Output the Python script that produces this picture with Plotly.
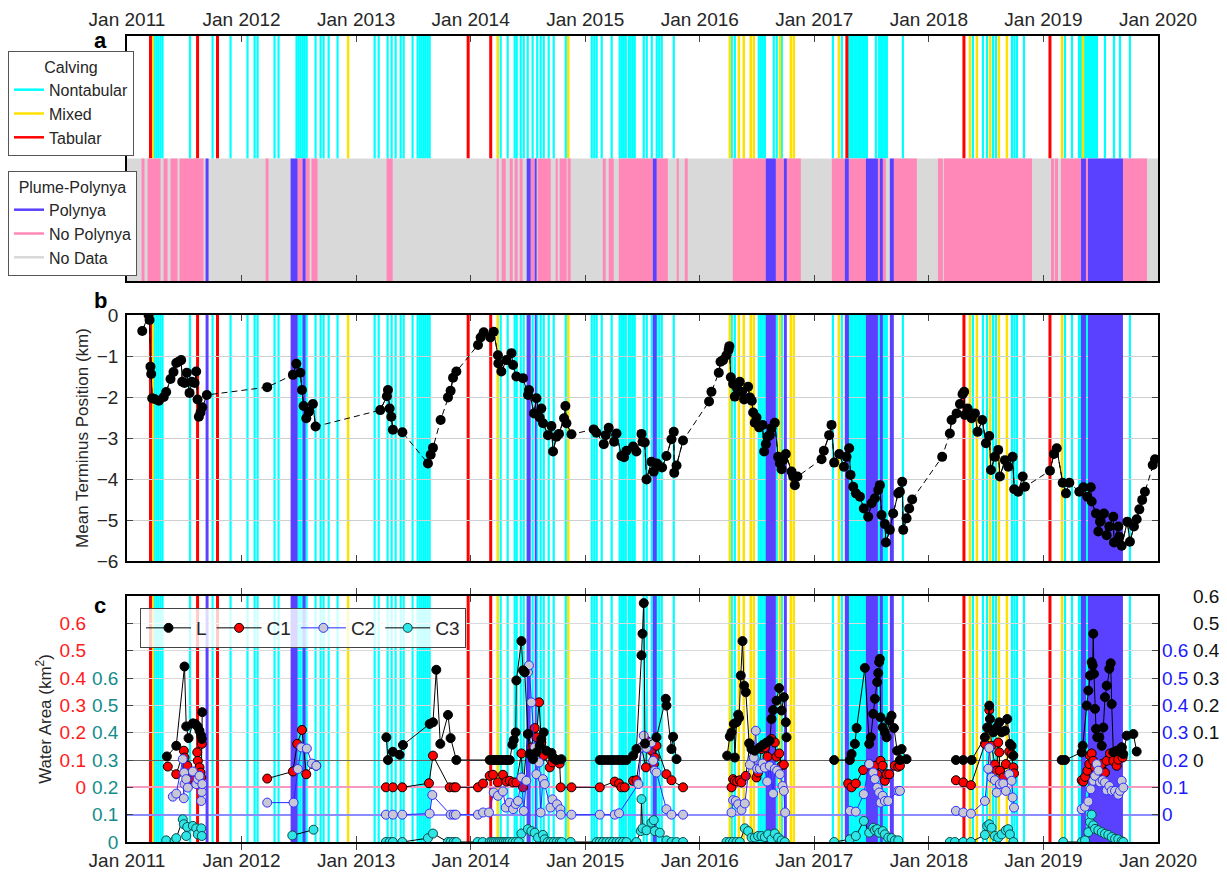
import plotly.graph_objects as go

FONT = "Liberation Sans, Arial, Helvetica, sans-serif"

# ---------------- data ----------------
tick_years = [2011, 2012, 2013, 2014, 2015, 2016, 2017, 2018, 2019, 2020]
tick_labels = ["Jan 2011", "Jan 2012", "Jan 2013", "Jan 2014", "Jan 2015",
               "Jan 2016", "Jan 2017", "Jan 2018", "Jan 2019", "Jan 2020"]

# calving events (decimal year)
nontabular = [2011.240, 2011.258, 2011.275, 2011.293, 2011.310, 2011.550, 2011.747, 2011.904,
              2012.052, 2012.114, 2012.140, 2012.288, 2012.323, 2012.480, 2012.498, 2012.515,
              2012.533, 2012.550, 2012.568, 2012.646, 2012.690, 2012.716, 2012.760, 2012.838,
              2013.162, 2013.197, 2013.275, 2013.310, 2013.345, 2013.389, 2013.415, 2013.493,
              2013.537, 2013.555, 2013.572, 2013.590, 2013.607, 2013.625, 2013.642,
              2014.262, 2014.323, 2014.384, 2014.402, 2014.437, 2014.463, 2014.498, 2014.541,
              2014.581, 2014.611, 2014.638, 2014.681, 2014.725, 2014.830,
              2015.057, 2015.079, 2015.100, 2015.144, 2015.231, 2015.301, 2015.319, 2015.336,
              2015.354, 2015.380, 2015.397, 2015.415, 2015.432, 2015.511, 2015.537, 2015.581,
              2015.624, 2015.646, 2015.668, 2015.773,
              2016.279, 2016.306, 2016.515, 2016.533, 2016.550, 2016.568, 2016.646, 2016.672, 2016.716,
              2017.162, 2017.240, 2017.301, 2017.319, 2017.336, 2017.354, 2017.371, 2017.389,
              2017.406, 2017.424, 2017.441, 2017.459, 2017.537, 2017.563, 2017.581, 2017.598,
              2017.616, 2017.633, 2017.773,
              2018.384, 2018.472, 2018.507, 2018.559, 2018.585, 2018.725, 2018.747, 2018.769, 2018.830,
              2019.188, 2019.249, 2019.310, 2019.328, 2019.362, 2019.380, 2019.397, 2019.415,
              2019.432, 2019.450, 2019.467, 2019.537, 2019.616, 2019.668, 2019.755]
mixed = [2011.223, 2012.930, 2014.236, 2014.852, 2016.262, 2016.341, 2016.384, 2016.445,
         2016.472, 2016.699, 2016.795, 2016.821, 2017.214, 2018.358, 2018.419, 2018.533,
         2018.611, 2018.681, 2019.162, 2019.345]
tabular = [2011.205, 2011.616, 2011.790, 2013.978, 2014.175, 2017.284, 2018.306, 2019.057]

# plume-polynya observations (start, end in decimal year)
nopoly_start = [2011.127, 2011.179, 2011.319, 2011.380, 2011.459, 2012.210, 2012.489, 2012.559,
                2012.611, 2013.266, 2014.227, 2014.271, 2014.341, 2014.384, 2014.428, 2014.524,
                2014.585, 2014.742, 2014.777, 2014.847, 2015.153, 2015.205, 2015.293, 2015.624,
                2015.799, 2015.869, 2016.288, 2016.664, 2016.760, 2017.153, 2017.301, 2017.555,
                2017.598, 2017.694, 2018.079, 2018.131, 2019.066, 2019.100, 2019.153, 2019.371,
                2019.694]
nopoly_end = [2011.153, 2011.293, 2011.354, 2011.441, 2011.668, 2012.236, 2012.533, 2012.594,
              2012.664, 2013.319, 2014.245, 2014.306, 2014.367, 2014.410, 2014.454, 2014.559,
              2014.699, 2014.760, 2014.838, 2014.873, 2015.179, 2015.249, 2015.590, 2015.721,
              2015.817, 2015.895, 2016.576, 2016.734, 2016.882, 2017.266, 2017.450, 2017.572,
              2017.624, 2017.895, 2018.122, 2018.900, 2019.092, 2019.127, 2019.328, 2019.389,
              2019.904]
poly_start = [2011.686, 2012.428, 2012.533, 2014.489, 2014.559, 2015.590, 2016.576, 2016.734,
              2017.266, 2017.450, 2017.572, 2017.659, 2019.328, 2019.389]
poly_end = [2011.712, 2012.489, 2012.559, 2014.524, 2014.576, 2015.624, 2016.664, 2016.760,
            2017.301, 2017.555, 2017.598, 2017.694, 2019.371, 2019.694]

# mean terminus position (km)
term_year = [2011.133, 2011.188, 2011.197, 2011.205, 2011.211, 2011.220, 2011.240, 2011.278, 2011.321,
             2011.342, 2011.380, 2011.406, 2011.430, 2011.450, 2011.473, 2011.482, 2011.502, 2011.522,
             2011.546, 2011.566, 2011.590, 2011.604, 2011.616, 2011.627, 2011.642, 2011.657, 2011.697,
             2012.224, 2012.448, 2012.478, 2012.513, 2012.527, 2012.542, 2012.565, 2012.588, 2012.623,
             2012.646, 2013.211, 2013.269, 2013.278, 2013.293, 2013.307, 2013.321, 2013.404, 2013.627,
             2013.651, 2013.671, 2013.738, 2013.802, 2013.825, 2013.846, 2013.875, 2014.064, 2014.087,
             2014.114, 2014.172, 2014.201, 2014.238, 2014.242, 2014.268, 2014.312, 2014.356, 2014.370,
             2014.399, 2014.457, 2014.501, 2014.509, 2014.553, 2014.574, 2014.603, 2014.617, 2014.632,
             2014.675, 2014.705, 2014.719, 2014.749, 2014.771, 2014.815, 2014.827, 2014.836, 2014.880,
             2015.074, 2015.098, 2015.162, 2015.179, 2015.205, 2015.252, 2015.273, 2015.316, 2015.339,
             2015.360, 2015.418, 2015.447, 2015.491, 2015.500, 2015.520, 2015.535, 2015.578, 2015.598,
             2015.627, 2015.671, 2015.709, 2015.753, 2015.773, 2015.777, 2015.797, 2015.854, 2016.081,
             2016.102, 2016.166, 2016.181, 2016.204, 2016.233, 2016.252, 2016.258, 2016.271, 2016.291,
             2016.306, 2016.326, 2016.349, 2016.364, 2016.387, 2016.422, 2016.437, 2016.454, 2016.466,
             2016.480, 2016.495, 2016.518, 2016.548, 2016.562, 2016.577, 2016.591, 2016.611, 2016.626,
             2016.655, 2016.684, 2016.699, 2016.714, 2016.728, 2016.751, 2016.801, 2016.815, 2016.830,
             2016.853, 2017.063, 2017.083, 2017.129, 2017.150, 2017.173, 2017.217, 2017.258, 2017.281,
             2017.304, 2017.316, 2017.339, 2017.363, 2017.398, 2017.432, 2017.470, 2017.500, 2017.529,
             2017.558, 2017.572, 2017.587, 2017.616, 2017.625, 2017.659, 2017.688, 2017.732, 2017.747,
             2017.767, 2017.776, 2017.805, 2017.828, 2017.854, 2018.116, 2018.183, 2018.198, 2018.242,
             2018.271, 2018.294, 2018.308, 2018.314, 2018.338, 2018.373, 2018.402, 2018.425, 2018.466,
             2018.498, 2018.527, 2018.542, 2018.576, 2018.605, 2018.620, 2018.664, 2018.693, 2018.731,
             2018.745, 2018.780, 2018.819, 2018.839, 2019.057, 2019.092, 2019.116, 2019.168, 2019.197,
             2019.226, 2019.313, 2019.348, 2019.383, 2019.413, 2019.421, 2019.459, 2019.479, 2019.494,
             2019.528, 2019.552, 2019.575, 2019.610, 2019.616, 2019.654, 2019.662, 2019.683, 2019.732,
             2019.755, 2019.790, 2019.814, 2019.837, 2019.862, 2019.886, 2019.954, 2019.974]
term_km = [-0.39, 0.00, -0.12, -1.26, -1.44, -2.03, -2.05, -2.09, -2.00,
           -1.88, -1.56, -1.39, -1.17, -1.14, -1.10, -1.63, -1.66, -1.41,
           -1.90, -1.63, -1.66, -1.38, -2.06, -2.48, -2.38, -2.25, -1.95,
           -1.76, -1.46, -1.19, -1.41, -1.83, -2.22, -2.52, -2.36, -2.17,
           -2.72, -2.32, -1.98, -1.83, -2.28, -2.48, -2.80, -2.86, -3.62,
           -3.41, -3.24, -2.56, -2.01, -1.85, -1.53, -1.38, -0.73, -0.55,
           -0.42, -0.55, -0.41, -0.98, -1.18, -1.38, -1.10, -0.93, -1.22,
           -1.50, -1.54, -1.95, -1.83, -2.40, -2.03, -2.50, -2.28, -2.64,
           -2.93, -2.71, -3.33, -2.97, -2.90, -2.52, -2.22, -2.64, -2.91,
           -2.79, -2.87, -3.15, -2.93, -2.75, -3.09, -2.89, -3.44, -3.47,
           -3.31, -3.21, -3.33, -2.90, -3.09, -3.11, -4.01, -3.58, -3.82,
           -3.62, -3.72, -3.44, -3.03, -2.85, -3.85, -3.67, -3.06, -2.11,
           -1.87, -1.41, -1.14, -1.10, -0.98, -0.85, -0.76, -1.52, -1.68,
           -1.99, -1.79, -1.63, -1.87, -2.06, -1.75, -2.01, -2.09, -2.38,
           -2.63, -2.50, -2.74, -2.68, -3.33, -3.15, -2.97, -2.93, -2.76,
           -2.63, -3.46, -3.62, -3.76, -3.54, -3.39, -3.82, -3.94, -4.15,
           -3.94, -3.52, -3.31, -2.93, -2.68, -3.60, -3.39, -3.70, -3.46,
           -3.25, -3.90, -4.19, -4.35, -4.43, -4.72, -4.92, -4.59, -4.47,
           -4.27, -4.15, -4.88, -5.10, -5.55, -5.24, -4.84, -4.35, -4.31,
           -4.07, -5.24, -4.96, -4.72, -4.50, -3.46, -2.89, -2.56, -2.40,
           -2.17, -1.93, -1.87, -2.44, -2.28, -2.52, -2.40, -2.85, -2.56,
           -3.13, -2.95, -3.78, -3.46, -3.29, -3.94, -3.54, -3.70, -3.46,
           -4.25, -4.31, -3.94, -4.19, -3.80, -3.39, -3.25, -4.09, -4.35,
           -4.09, -4.31, -4.20, -4.43, -4.20, -4.55, -4.84, -5.28, -5.04,
           -4.84, -5.37, -5.16, -4.92, -5.55, -5.16, -5.41, -5.63, -5.04,
           -5.53, -5.16, -4.98, -4.74, -4.51, -4.31, -3.66, -3.52]

# water areas (km^2)
L_year = [2011.348, 2011.430, 2011.502, 2011.517, 2011.537, 2011.575, 2011.596, 2011.618, 2011.633,
          2011.648, 2011.653, 2011.657,
          2013.264, 2013.278, 2013.321, 2013.380, 2013.409, 2013.642, 2013.671, 2013.700, 2013.735,
          2013.802, 2013.825, 2013.875,
          2014.166, 2014.190, 2014.210, 2014.230, 2014.253, 2014.273, 2014.297, 2014.317, 2014.341,
          2014.364, 2014.376, 2014.393, 2014.399, 2014.443, 2014.457, 2014.472, 2014.500, 2014.515,
          2014.544, 2014.574, 2014.603, 2014.617, 2014.638, 2014.661, 2014.705, 2014.719, 2014.749,
          2014.792,
          2015.127, 2015.156, 2015.185, 2015.214, 2015.243, 2015.273, 2015.301, 2015.330, 2015.360,
          2015.418, 2015.447, 2015.491, 2015.500, 2015.511, 2015.522, 2015.622, 2015.703, 2015.709,
          2015.753, 2015.767, 2015.797,
          2016.239, 2016.262, 2016.277, 2016.297, 2016.306, 2016.321, 2016.335, 2016.343, 2016.358,
          2016.373, 2016.387, 2016.402, 2016.431, 2016.452, 2016.480, 2016.524, 2016.553, 2016.583,
          2016.611, 2016.626, 2016.640, 2016.670, 2016.693, 2016.714, 2016.734, 2016.751, 2016.757,
          2017.173, 2017.310, 2017.325, 2017.354, 2017.369, 2017.441, 2017.479, 2017.494, 2017.514,
          2017.529, 2017.549, 2017.558, 2017.566, 2017.572, 2017.578, 2017.596, 2017.616, 2017.631,
          2017.654, 2017.674, 2017.695, 2017.723, 2017.747, 2017.762, 2017.805,
          2018.236, 2018.300, 2018.373, 2018.489, 2018.509, 2018.527, 2018.533, 2018.562, 2018.592,
          2018.614, 2018.635, 2018.664, 2018.684, 2018.707, 2018.722, 2018.737,
          2019.159, 2019.188, 2019.334, 2019.343, 2019.378, 2019.392, 2019.406, 2019.421, 2019.430,
          2019.435, 2019.441, 2019.450, 2019.459, 2019.470, 2019.488, 2019.509, 2019.523, 2019.537,
          2019.552, 2019.575, 2019.587, 2019.596, 2019.610, 2019.639, 2019.683, 2019.697, 2019.727,
          2019.785, 2019.814]
L_area = [0.013, 0.052, 0.342, 0.123, 0.080, 0.134, 0.132, 0.122, 0.107,
          0.089, 0.077, 0.175,
          0.083, 0.000, 0.030, 0.019, 0.055, 0.132, 0.138, 0.330, 0.059,
          0.165, 0.080, 0.000,
          0.000, 0.000, 0.000, 0.000, 0.000, 0.000, 0.000, 0.000, 0.000,
          0.056, 0.073, 0.101, 0.291, 0.435, 0.328, 0.321, 0.095, 0.022,
          0.003, 0.028, 0.052, 0.077, 0.101, 0.034, 0.026, 0.009, 0.000,
          0.003,
          0.000, 0.000, 0.000, 0.000, 0.000, 0.000, 0.000, 0.000, 0.000,
          0.016, 0.040, 0.383, 0.462, 0.574, 0.060, 0.083, 0.224, 0.199,
          0.040, 0.085, 0.003,
          0.016, 0.086, 0.101, 0.132, 0.009, 0.138, 0.166, 0.154, 0.309,
          0.435, 0.272, 0.248, 0.061, 0.040, 0.034, 0.046, 0.056, 0.064,
          0.071, 0.150, 0.183, 0.217, 0.263, 0.181, 0.230, 0.138, 0.083,
          0.000, 0.000, 0.022, 0.059, 0.117, 0.337, 0.059, 0.083, 0.169,
          0.224, 0.285, 0.318, 0.358, 0.370, 0.156, 0.119, 0.101, 0.083,
          0.144, 0.162, 0.117, 0.034, 0.000, 0.040, 0.003,
          0.000, 0.000, 0.000, 0.083, 0.119, 0.199, 0.150, 0.101, 0.119,
          0.138, 0.101, 0.107, 0.150, 0.059, 0.052, 0.016,
          0.000, 0.000, 0.028, 0.052, 0.199, 0.254, 0.309, 0.358, 0.346,
          0.462, 0.315, 0.187, 0.114, 0.083, 0.083, 0.052, 0.119, 0.230,
          0.272, 0.334, 0.354, 0.205, 0.028, 0.034, 0.046, 0.022, 0.089,
          0.095, 0.031]

C1_year = [2011.356, 2011.430, 2011.496, 2011.502, 2011.517, 2011.526, 2011.546, 2011.590, 2011.613,
           2011.618, 2011.633, 2011.642, 2011.648, 2011.653,
           2012.224, 2012.448, 2012.486, 2012.527, 2012.565, 2012.623, 2012.652,
           2013.260, 2013.321, 2013.403, 2013.636, 2013.671, 2013.817, 2013.852, 2013.870,
           2014.064, 2014.108, 2014.166, 2014.195, 2014.238, 2014.282, 2014.312, 2014.341, 2014.370,
           2014.399, 2014.443, 2014.457, 2014.500, 2014.530, 2014.559, 2014.574, 2014.597, 2014.617,
           2014.638, 2014.690, 2014.714, 2014.734, 2014.777, 2014.786, 2014.880,
           2015.127, 2015.258, 2015.295, 2015.316, 2015.345, 2015.418, 2015.447, 2015.491, 2015.530,
           2015.535, 2015.578, 2015.600, 2015.607, 2015.622, 2015.709, 2015.753, 2015.854,
           2016.277, 2016.291, 2016.306, 2016.326, 2016.349, 2016.364, 2016.402, 2016.437, 2016.466,
           2016.495, 2016.509, 2016.539, 2016.568, 2016.591, 2016.626, 2016.655, 2016.670, 2016.693,
           2016.714, 2016.734,
           2017.295, 2017.325, 2017.362, 2017.426, 2017.479, 2017.514, 2017.529, 2017.549, 2017.578,
           2017.596, 2017.616, 2017.631, 2017.654, 2017.703, 2017.732, 2017.747,
           2018.236, 2018.300, 2018.367, 2018.489, 2018.518, 2018.527, 2018.547, 2018.576, 2018.592,
           2018.605, 2018.614, 2018.620, 2018.649, 2018.672, 2018.701, 2018.722, 2018.737, 2018.743,
           2019.334, 2019.348, 2019.363, 2019.383, 2019.400, 2019.406, 2019.421, 2019.435, 2019.450,
           2019.465, 2019.488, 2019.509, 2019.537, 2019.552, 2019.581, 2019.610, 2019.639, 2019.653,
           2019.668, 2019.683, 2019.691]
C1_area = [0.076, 0.048, 0.134, 0.109, 0.061, 0.079, 0.030, 0.030, 0.128,
           0.097, 0.073, 0.054, 0.036, 0.159,
           0.032, 0.058, 0.159, 0.210, 0.048, 0.085, 0.079,
           0.000, 0.000, 0.000, 0.015, 0.116, 0.000, 0.000, 0.000,
           0.000, 0.014, 0.042, 0.046, 0.018, 0.046, 0.021, 0.024, 0.018,
           0.018, 0.124, 0.000, 0.195, 0.146, 0.217, 0.183, 0.311, 0.164,
           0.116, 0.073, 0.091, 0.103, 0.087, 0.000, 0.000,
           0.000, 0.021, 0.014, 0.000, 0.000, 0.024, 0.026, 0.146, 0.073,
           0.171, 0.134, 0.085, 0.109, 0.152, 0.048, 0.026, 0.000,
           0.000, 0.030, 0.024, 0.021, 0.026, 0.018, 0.042, 0.159, 0.144,
           0.036, 0.054, 0.140, 0.146, 0.112, 0.177, 0.164, 0.112, 0.124,
           0.079, 0.083,
           0.014, 0.000, 0.014, 0.063, 0.085, 0.061, 0.079, 0.048, 0.097,
           0.079, 0.024, 0.048, 0.048, 0.079, 0.075, 0.079,
           0.026, 0.018, 0.008, 0.159, 0.215, 0.283, 0.152, 0.083, 0.061,
           0.164, 0.128, 0.061, 0.036, 0.085, 0.131, 0.122, 0.073, 0.051,
           0.026, 0.021, 0.038, 0.061, 0.085, 0.116, 0.124, 0.097, 0.073,
           0.042, 0.063, 0.085, 0.054, 0.097, 0.124, 0.097, 0.079, 0.101,
           0.134, 0.146, 0.109]

C2_year = [2011.400, 2011.430, 2011.487, 2011.496, 2011.499, 2011.502, 2011.517, 2011.531, 2011.575,
           2011.604, 2011.618, 2011.633, 2011.648, 2011.653, 2011.657,
           2012.224, 2012.454, 2012.492, 2012.521, 2012.570, 2012.614, 2012.652,
           2013.260, 2013.321, 2013.403, 2013.642, 2013.665, 2013.825, 2013.852, 2013.870,
           2014.064, 2014.108, 2014.160, 2014.201, 2014.238, 2014.282, 2014.306, 2014.341, 2014.370,
           2014.393, 2014.413, 2014.443, 2014.463, 2014.486, 2014.500, 2014.509, 2014.530, 2014.559,
           2014.574, 2014.597, 2014.611, 2014.631, 2014.646, 2014.696, 2014.714, 2014.754, 2014.783,
           2014.786, 2014.880,
           2015.127, 2015.258, 2015.295, 2015.464, 2015.491, 2015.511, 2015.535, 2015.578, 2015.593,
           2015.607, 2015.622, 2015.709, 2015.753, 2015.854,
           2016.277, 2016.291, 2016.314, 2016.335, 2016.364, 2016.393, 2016.437, 2016.452, 2016.472,
           2016.489, 2016.501, 2016.524, 2016.548, 2016.568, 2016.588, 2016.611, 2016.640, 2016.655,
           2016.675, 2016.699, 2016.722, 2016.734, 2016.745,
           2017.310, 2017.362, 2017.432, 2017.479, 2017.514, 2017.529, 2017.549, 2017.566, 2017.578,
           2017.596, 2017.616, 2017.645, 2017.732, 2017.747,
           2018.236, 2018.300, 2018.367, 2018.489, 2018.518, 2018.527, 2018.547, 2018.576, 2018.592,
           2018.620, 2018.649, 2018.672, 2018.701, 2018.722, 2018.731, 2018.743,
           2019.334, 2019.363, 2019.392, 2019.413, 2019.435, 2019.450, 2019.465, 2019.479, 2019.494,
           2019.517, 2019.537, 2019.552, 2019.575, 2019.596, 2019.625, 2019.653, 2019.668, 2019.683,
           2019.697]
C2_area = [0.066, 0.077, 0.203, 0.060, 0.154, 0.112, 0.130, 0.099, 0.158,
           0.112, 0.130, 0.142, 0.050, 0.083, 0.112,
           0.044, 0.044, 0.167, 0.246, 0.242, 0.187, 0.179,
           0.000, 0.000, 0.000, 0.004, 0.072, 0.000, 0.000, 0.000,
           0.000, 0.008, 0.008, 0.081, 0.069, 0.085, 0.026, 0.044, 0.020,
           0.039, 0.050, 0.136, 0.014, 0.124, 0.521, 0.546, 0.411, 0.246,
           0.148, 0.191, 0.008, 0.130, 0.112, 0.026, 0.056, 0.038, 0.020,
           0.000, 0.000,
           0.000, 0.000, 0.005, 0.112, 0.246, 0.289, 0.244, 0.264, 0.197,
           0.161, 0.154, 0.020, 0.000, 0.000,
           0.008, 0.053, 0.050, 0.038, 0.017, 0.041, 0.183, 0.246, 0.209,
           0.307, 0.168, 0.168, 0.187, 0.172, 0.121, 0.178, 0.077, 0.168,
           0.161, 0.148, 0.105, 0.087, 0.008,
           0.014, 0.011, 0.075, 0.185, 0.154, 0.130, 0.099, 0.081, 0.044,
           0.069, 0.050, 0.050, 0.087, 0.087,
           0.014, 0.008, 0.004, 0.050, 0.168, 0.244, 0.136, 0.126, 0.081,
           0.112, 0.114, 0.087, 0.148, 0.124, 0.063, 0.026,
           0.020, 0.029, 0.048, 0.093, 0.124, 0.142, 0.185, 0.161, 0.118,
           0.126, 0.118, 0.089, 0.105, 0.087, 0.087, 0.073, 0.087, 0.124,
           0.099]

C3_year = [2011.342, 2011.415, 2011.430, 2011.487, 2011.496, 2011.517, 2011.526, 2011.575, 2011.604,
           2011.618, 2011.648, 2011.653,
           2012.443, 2012.628,
           2013.260, 2013.293, 2013.321, 2013.403, 2013.627, 2013.671, 2013.802, 2013.825, 2013.852,
           2013.875,
           2014.061, 2014.105, 2014.166, 2014.183, 2014.201, 2014.218, 2014.236, 2014.253, 2014.271,
           2014.288, 2014.306, 2014.323, 2014.341, 2014.367, 2014.393, 2014.419, 2014.443, 2014.500,
           2014.530, 2014.559, 2014.588, 2014.631, 2014.646, 2014.673, 2014.699, 2014.725, 2014.751,
           2014.777, 2014.795, 2014.873,
           2015.101, 2015.127, 2015.156, 2015.185, 2015.214, 2015.243, 2015.273, 2015.301, 2015.330,
           2015.360, 2015.447, 2015.485, 2015.491, 2015.500, 2015.535, 2015.578, 2015.598, 2015.607,
           2015.651, 2015.709, 2015.753, 2015.797, 2015.854,
           2016.233, 2016.262, 2016.291, 2016.321, 2016.349, 2016.393, 2016.422, 2016.452, 2016.480,
           2016.509, 2016.539, 2016.568, 2016.597, 2016.626, 2016.655, 2016.684, 2016.714, 2016.742,
           2017.173, 2017.310, 2017.362, 2017.432, 2017.479, 2017.514, 2017.529, 2017.549, 2017.566,
           2017.596, 2017.616, 2017.645, 2017.674, 2017.703, 2017.732,
           2018.183, 2018.227, 2018.300, 2018.367, 2018.489, 2018.509, 2018.527, 2018.547, 2018.576,
           2018.605, 2018.635, 2018.672, 2018.692, 2018.707, 2018.737,
           2019.173, 2019.334, 2019.363, 2019.392, 2019.406, 2019.421, 2019.435, 2019.450, 2019.479,
           2019.509, 2019.537, 2019.566, 2019.596, 2019.625, 2019.653, 2019.683, 2019.697]
C3_area = [0.006, 0.004, 0.014, 0.083, 0.065, 0.022, 0.055, 0.059, 0.050,
           0.028, 0.050, 0.022,
           0.024, 0.045,
           0.000, 0.000, 0.000, 0.000, 0.014, 0.031, 0.000, 0.000, 0.000,
           0.000,
           0.000, 0.000, 0.000, 0.000, 0.000, 0.000, 0.000, 0.000, 0.000,
           0.000, 0.000, 0.000, 0.000, 0.000, 0.000, 0.000, 0.031, 0.047,
           0.040, 0.034, 0.016, 0.026, 0.010, 0.000, 0.000, 0.000, 0.000,
           0.000, 0.000, 0.000,
           0.000, 0.000, 0.000, 0.000, 0.000, 0.000, 0.000, 0.000, 0.000,
           0.000, 0.000, 0.040, 0.157, 0.050, 0.043, 0.071, 0.080, 0.040,
           0.034, 0.006, 0.000, 0.000, 0.000,
           0.000, 0.000, 0.000, 0.000, 0.000, 0.050, 0.040, 0.016, 0.016,
           0.022, 0.022, 0.018, 0.028, 0.010, 0.031, 0.016, 0.006, 0.000,
           0.000, 0.010, 0.022, 0.077, 0.034, 0.052, 0.043, 0.047, 0.034,
           0.040, 0.028, 0.016, 0.014, 0.006, 0.006,
           0.000, 0.000, 0.000, 0.000, 0.026, 0.059, 0.065, 0.052, 0.022,
           0.016, 0.028, 0.043, 0.047, 0.028, 0.000,
           0.000, 0.000, 0.006, 0.036, 0.073, 0.100, 0.061, 0.048, 0.043,
           0.036, 0.030, 0.026, 0.018, 0.012, 0.010, 0.003, 0.000]

# ---------------- styling ----------------
CYAN = "#00ffff"
YELLOW = "#ffe100"
RED = "#ff0000"
BLUE = "#5a41ff"
PINK = "#ff88b8"
GRAY = "#d9d9d9"
TEAL = "#138c8c"
AXBLUE = "#1a1aff"
TICKSIZE = 19


def band_xy(starts, ends, y0, y1):
    xs, ys = [], []
    for s, e in zip(starts, ends):
        xs += [s, e, e, s, s, None]
        ys += [y0, y0, y1, y1, y0, None]
    return xs, ys


def break_gaps(xs, ys, gap):
    ox, oy = [], []
    for i, (x, y) in enumerate(zip(xs, ys)):
        if i > 0 and x - xs[i - 1] > gap:
            ox.append(None)
            oy.append(None)
        ox.append(x)
        oy.append(y)
    return ox, oy


fig = go.Figure()

# ---- calving lines as shapes (below grid) ----
shapes = []
panels = [("x", "y", 1, 2), ("x2", "y2 domain", 0, 1), ("x3", "y3 domain", 0, 1)]
for xref, yref, y0, y1 in panels:
    for xs, col, w in [(nontabular, CYAN, 2.2), (mixed, YELLOW, 2.5), (tabular, RED, 3)]:
        for xv in xs:
            shapes.append(dict(type="line", xref=xref, yref=yref, x0=xv, x1=xv, y0=y0, y1=y1,
                               line=dict(color=col, width=w), layer="below"))

# ---- panel a: plume-polynya bands ----
fig.add_trace(go.Scatter(x=[2011, 2020, 2020, 2011, 2011], y=[0, 0, 1, 1, 0], fill="toself",
                         fillcolor=GRAY, line=dict(width=0), mode="lines", hoverinfo="skip",
                         showlegend=False, xaxis="x", yaxis="y"))
bx, by = band_xy(nopoly_start, nopoly_end, 0, 1)
fig.add_trace(go.Scatter(x=bx, y=by, fill="toself", fillcolor=PINK, line=dict(width=0),
                         mode="lines", hoverinfo="skip", showlegend=False, xaxis="x", yaxis="y"))
for xa, ya, lo, hi in [("x", "y", 0, 1), ("x2", "y2", -6, 0), ("x3", "y3", 0, 0.9)]:
    bx, by = band_xy(poly_start, poly_end, lo, hi)
    fig.add_trace(go.Scatter(x=bx, y=by, fill="toself", fillcolor=BLUE, line=dict(width=0),
                             mode="lines", hoverinfo="skip", showlegend=False, xaxis=xa, yaxis=ya))

# legend entries for panel a
for name, col, w in [("Nontabular", CYAN, 2.5), ("Mixed", YELLOW, 2.5), ("Tabular", RED, 2.5)]:
    fig.add_trace(go.Scatter(x=[None], y=[None], mode="lines", name=name,
                             line=dict(color=col, width=w), legend="legend", xaxis="x", yaxis="y"))
for name, col in [("Polynya", BLUE), ("No Polynya", PINK), ("No Data", GRAY)]:
    fig.add_trace(go.Scatter(x=[None], y=[None], mode="lines", name=name,
                             line=dict(color=col, width=2.5), legend="legend2", xaxis="x", yaxis="y"))

# ---- panel b: terminus ----
fig.add_trace(go.Scatter(x=term_year, y=term_km, mode="lines",
                         line=dict(color="black", width=1, dash="6px,4px"),
                         hoverinfo="skip", showlegend=False, xaxis="x2", yaxis="y2"))
sx, sy = break_gaps(term_year, term_km, 0.06)
fig.add_trace(go.Scatter(x=sx, y=sy, mode="lines+markers", line=dict(color="black", width=1),
                         marker=dict(color="black", size=10), showlegend=False,
                         xaxis="x2", yaxis="y2"))

# ---- panel c: water areas ----
series = [
    ("L", L_year, L_area, "y6", "black", dict(color="black", size=9, line=dict(color="black", width=1)), 1),
    ("C1", C1_year, C1_area, "y4", "black", dict(color="#ff0000", size=9, line=dict(color="black", width=1)), 2),
    ("C2", C2_year, C2_area, "y5", "#2a2aff", dict(color="#c8c8d4", size=9, line=dict(color="#3030ff", width=1)), 3),
    ("C3", C3_year, C3_area, "y3", "black", dict(color="#2ee6e6", size=9, line=dict(color="#0a4a4a", width=1)), 4),
]
for name, xs, ys, ya, lc, mk, rank in series:
    cx, cy = break_gaps(xs, ys, 0.3)
    fig.add_trace(go.Scatter(x=cx, y=cy, mode="lines+markers", name=name,
                             line=dict(color=lc, width=1), marker=mk, legend="legend3",
                             legendrank=rank, xaxis="x3", yaxis=ya))

# ---------------- layout ----------------
# the page body adds an 8px offset; plot area spans x 127..1158, y 36..842 on screen
OFF = 8
FIG_W = 1227 - OFF
FIG_H = 872 - OFF
top = 36
bottom = 842
H = bottom - top


def dom(y_top, y_bot):
    return [(bottom - y_bot) / H, (bottom - y_top) / H]


xcommon = dict(range=[2011, 2020], tickvals=tick_years, ticktext=tick_labels, ticks="inside",
               ticklen=6, tickcolor="#444", mirror="allticks", showline=True, linecolor="black",
               linewidth=2, showgrid=False, zeroline=False,
               tickfont=dict(size=TICKSIZE, color="#262626"), domain=[0, 1], automargin=False)

fig.update_layout(
    width=FIG_W, height=FIG_H,
    margin=dict(l=127 - OFF, r=1227 - 1158, t=top - OFF, b=FIG_H + OFF - bottom, autoexpand=False),
    paper_bgcolor="white", plot_bgcolor="white",
    font=dict(family=FONT, size=16, color="#262626"),
    shapes=shapes,
    xaxis=dict(xcommon, anchor="y", side="top", showticklabels=True),
    yaxis=dict(domain=dom(36, 281), range=[0, 2], showticklabels=False, ticks="",
               showline=True, mirror=True, linecolor="black", linewidth=2, showgrid=False,
               zeroline=False, automargin=False),
    xaxis2=dict(xcommon, anchor="y2", showticklabels=False),
    yaxis2=dict(domain=dom(315, 561), range=[-6, 0], dtick=1, ticks="inside", ticklen=6,
                tickcolor="#444", mirror="allticks", showline=True, linecolor="black",
                linewidth=1.5, showgrid=True, gridcolor="#cfcfcf", gridwidth=1, zeroline=False,
                tickfont=dict(size=TICKSIZE, color="#262626"), ticklabelstandoff=3, automargin=False,
                title=dict(text="Mean Terminus Position (km)", font=dict(size=17, color="#262626"),
                           standoff=4)),
    xaxis3=dict(xcommon, anchor="y3", showticklabels=True),
    yaxis3=dict(domain=dom(596, 842), range=[0, 0.9],
                tickvals=[0, 0.1, 0.2, 0.3, 0.4, 0.5, 0.6],
                ticks="inside", ticklen=6, tickcolor="#444", mirror="allticks", showline=True,
                linecolor="black", linewidth=1.5, showgrid=True, gridcolor="#d9d9d9",
                minor=dict(tickvals=[0.7, 0.8], ticks="inside", ticklen=6, tickcolor="#444",
                           showgrid=True, gridcolor="#d9d9d9"),
                zeroline=False, tickfont=dict(size=TICKSIZE, color=TEAL), ticklabelstandoff=3,
                automargin=False),
    yaxis4=dict(overlaying="y3", anchor="x3", side="left", range=[-0.2, 0.7],
                tickvals=[0, 0.1, 0.2, 0.3, 0.4, 0.5, 0.6], ticks="", showgrid=False,
                showline=False, zeroline=True, zerolinecolor="#f59ac0", zerolinewidth=1.5,
                tickfont=dict(size=TICKSIZE, color="#ff1a1a"), ticklabelstandoff=40,
                automargin=False,
                title=dict(text="Water Area (km<sup>2</sup>)", font=dict(size=17, color="#262626"),
                           standoff=3)),
    yaxis5=dict(overlaying="y3", anchor="x3", side="right", range=[-0.1, 0.8],
                tickvals=[0, 0.1, 0.2, 0.3, 0.4, 0.5, 0.6], ticks="", showgrid=False,
                showline=False, zeroline=True, zerolinecolor="#8c8cff", zerolinewidth=1.5,
                tickfont=dict(size=TICKSIZE, color=AXBLUE), ticklabelstandoff=3, automargin=False),
    yaxis6=dict(overlaying="y3", anchor="x3", side="right", range=[-0.3, 0.6],
                tickvals=[0, 0.1, 0.2, 0.3, 0.4, 0.5, 0.6], ticks="", showgrid=False,
                showline=False, zeroline=True, zerolinecolor="#666666", zerolinewidth=1.2,
                tickfont=dict(size=TICKSIZE, color="#111111"), ticklabelstandoff=34,
                automargin=False),
    legend=dict(x=(8 - 127) / 1031, y=(bottom - 51) / H, xanchor="left", yanchor="top",
                title=dict(text="Calving", side="top center", font=dict(size=16)),
                bgcolor="white", bordercolor="#555", borderwidth=1, font=dict(size=16),
                tracegroupgap=0, itemwidth=30),
    legend2=dict(x=(8 - 127) / 1031, y=(bottom - 171) / H, xanchor="left", yanchor="top",
                 title=dict(text="Plume-Polynya", side="top center", font=dict(size=16)),
                 bgcolor="white", bordercolor="#555", borderwidth=1, font=dict(size=16),
                 itemwidth=30),
    legend3=dict(x=(140 - 127) / 1031, y=(bottom - 608) / H, xanchor="left", yanchor="top",
                 orientation="h", bgcolor="rgba(255,255,255,0.8)", bordercolor="#444",
                 borderwidth=1, font=dict(size=19), itemwidth=45),
    annotations=[
        dict(text="<b>a</b>", x=(100 - 127) / 1031, y=(bottom - 40) / H, xref="paper", yref="paper",
             showarrow=False, font=dict(size=22, color="black"), xanchor="center", yanchor="middle"),
        dict(text="<b>b</b>", x=(100 - 127) / 1031, y=(bottom - 300) / H, xref="paper", yref="paper",
             showarrow=False, font=dict(size=22, color="black"), xanchor="center", yanchor="middle"),
        dict(text="<b>c</b>", x=(100 - 127) / 1031, y=(bottom - 605) / H, xref="paper", yref="paper",
             showarrow=False, font=dict(size=22, color="black"), xanchor="center", yanchor="middle"),
    ],
)

fig.write_html("out.html")
